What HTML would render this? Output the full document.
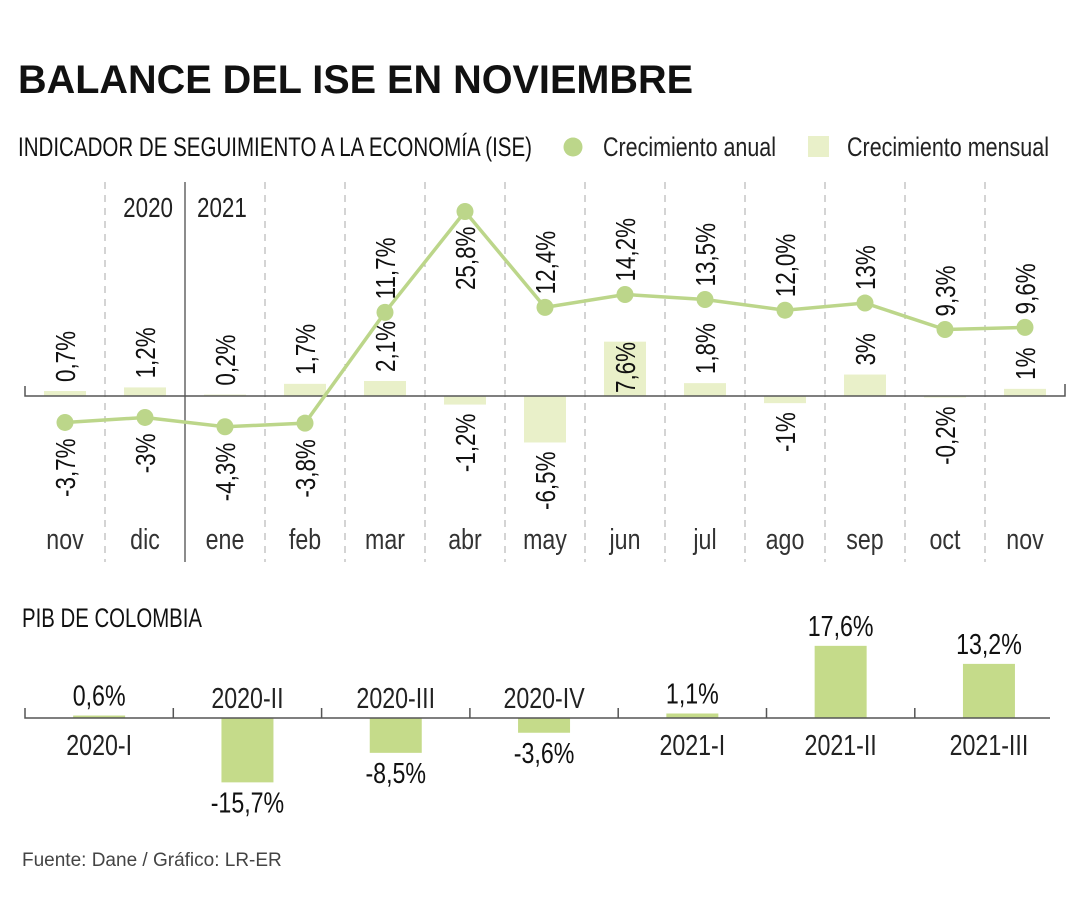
<!DOCTYPE html>
<html><head><meta charset="utf-8">
<style>
html,body{margin:0;padding:0;background:#fff;}
svg{display:block;font-family:"Liberation Sans",sans-serif;}
</style></head>
<body>
<svg id="chart" width="1080" height="900" viewBox="0 0 1080 900">
  <text x="18" y="93" font-family="Liberation Sans, sans-serif" font-weight="bold" font-size="40" fill="#111" textLength="675" lengthAdjust="spacingAndGlyphs">BALANCE DEL ISE EN NOVIEMBRE</text>
  <text x="18" y="156" font-size="27" fill="#111" textLength="514" lengthAdjust="spacingAndGlyphs">INDICADOR DE SEGUIMIENTO A LA ECONOMÍA (ISE)</text>
  <circle cx="573" cy="147" r="9.5" fill="#bcd68a"/>
  <text x="603" y="156" font-size="27" fill="#222" textLength="173" lengthAdjust="spacingAndGlyphs">Crecimiento anual</text>
  <rect x="808" y="136" width="21" height="21" fill="#e9f0c9"/>
  <text x="847" y="156" font-size="27" fill="#222" textLength="202" lengthAdjust="spacingAndGlyphs">Crecimiento mensual</text>
  <g id="ise"></g>
  <text x="22" y="627" font-size="27" fill="#111" textLength="180" lengthAdjust="spacingAndGlyphs">PIB DE COLOMBIA</text>
  <g id="pib"></g>
  <text x="22" y="866" font-family="Liberation Sans, sans-serif" font-size="19" fill="#444">Fuente: Dane / Gráfico: LR-ER</text>
</svg>
<script>
const months = ["nov","dic","ene","feb","mar","abr","may","jun","jul","ago","sep","oct","nov"];
const annual = [-3.7,-3.0,-4.3,-3.8,11.7,25.8,12.4,14.2,13.5,12.0,13.0,9.3,9.6];
const annualLabels = ["-3,7%","-3%","-4,3%","-3,8%","11,7%","25,8%","12,4%","14,2%","13,5%","12,0%","13%","9,3%","9,6%"];
const monthly = [0.7,1.2,0.2,1.7,2.1,-1.2,-6.5,7.6,1.8,-1.0,3.0,-0.2,1.0];
const monthlyLabels = ["0,7%","1,2%","0,2%","1,7%","2,1%","-1,2%","-6,5%","7,6%","1,8%","-1%","3%","-0,2%","1%"];
const quarters = ["2020-I","2020-II","2020-III","2020-IV","2021-I","2021-II","2021-III"];
const pib = [0.6,-15.7,-8.5,-3.6,1.1,17.6,13.2];
const pibLabels = ["0,6%","-15,7%","-8,5%","-3,6%","1,1%","17,6%","13,2%"];

const NS="http://www.w3.org/2000/svg";
const SX=0.8;
function mk(parent,tag,attrs,text){const e=document.createElementNS(NS,tag);for(const k in attrs)e.setAttribute(k,attrs[k]);if(text!==undefined)e.textContent=text;parent.appendChild(e);return e;}

// ISE chart
const ise=document.getElementById('ise');
const zeroY=396, unit=7.15, colW=80, x0=25;
const xC=i=>x0+colW*i+40;
const yV=v=>zeroY-v*unit;
for(let i=1;i<months.length;i++){
  const x=x0+colW*i;
  const l=mk(ise,'line',{x1:x,x2:x,y1:182,y2:562,stroke:i===2?'#666':'#aaa','stroke-width':i===2?1.5:1,'stroke-dasharray':i===2?'none':'7,6'});
  
  
}
const y20=mk(ise,'text',{x:0,y:0,'font-size':28,fill:'#222','text-anchor':'end',transform:`translate(173,217) scale(${SX},1)`},'2020');


const y21=mk(ise,'text',{x:0,y:0,'font-size':28,fill:'#222',transform:`translate(197,217) scale(${SX},1)`},'2021');


monthly.forEach((v,i)=>{
  const y=Math.min(yV(v),zeroY), h=Math.abs(v*unit);
  const r=mk(ise,'rect',{x:xC(i)-21,y:y,width:42,height:Math.max(h,1.5),fill:'#e9f0c9'});
  
  
  let ty, anchor;
  if(v>5){ty=zeroY-3;anchor='start';}
  else if(v>=0){ty=yV(v)-9;anchor='start';}
  else {ty=yV(v)+9;anchor='end';}
  const t=mk(ise,'text',{x:0,y:0,'font-size':28,fill:'#111','text-anchor':anchor,transform:`translate(${xC(i)+10},${ty}) rotate(-90) scale(${SX},1)`},monthlyLabels[i]);
  
  
});
const ax=mk(ise,'path',{d:`M${x0} ${zeroY-10} V${zeroY} H1065 V${zeroY-12}`,stroke:'#555','stroke-width':1.5,fill:'none'});


const pts=annual.map((v,i)=>xC(i)+','+yV(v)).join(' ');
const pl=mk(ise,'polyline',{points:pts,fill:'none',stroke:'#bcd68a','stroke-width':3.5});


annual.forEach((v,i)=>{
  const c=mk(ise,'circle',{cx:xC(i),cy:yV(v),r:8.5,fill:'#bcd68a'});
  
  
  let ty,anchor;
  if(v<0){ty=yV(v)+16;anchor='end';}
  else if(v>20){ty=yV(v)+15;anchor='end';}
  else {ty=yV(v)-13;anchor='start';}
  const t=mk(ise,'text',{x:0,y:0,'font-size':28,fill:'#111','text-anchor':anchor,transform:`translate(${xC(i)+10},${ty}) rotate(-90) scale(${SX},1)`},annualLabels[i]);
  
  
});
months.forEach((m,i)=>{
  const t=mk(ise,'text',{x:0,y:0,'font-size':29,fill:'#333','text-anchor':'middle',transform:`translate(${xC(i)},549) scale(${SX},1)`},m);
  
  
});

// PIB chart
const pibG=document.getElementById('pib');
const pZero=718, pUnit=4.1, pW=148.3, px0=25;
const pC=i=>px0+pW*i+pW/2;
const pY=v=>pZero-v*pUnit;
pib.forEach((v,i)=>{
  const y=Math.min(pY(v),pZero), h=Math.abs(v*pUnit);
  const r=mk(pibG,'rect',{x:pC(i)-26,y:y,width:52,height:Math.max(h,2),fill:'#c5db8a'});
  
  
  const vt=mk(pibG,'text',{x:0,y:0,'font-size':29,fill:'#111','text-anchor':'middle',transform:`translate(${pC(i)},${v>=0?pY(v)-10:pY(v)+30}) scale(${SX},1)`},pibLabels[i]);
  
  
  const ct=mk(pibG,'text',{x:0,y:0,'font-size':29,fill:'#222','text-anchor':'middle',transform:`translate(${pC(i)},${v>=0?pZero+37:pZero-10}) scale(${SX},1)`},quarters[i]);
  
  
});
let d=`M${px0} ${pZero-10} V${pZero} H1050`;
for(let i=1;i<quarters.length;i++){const x=px0+pW*i;d+=` M${x} ${pZero-10} V${pZero}`;}
const pax=mk(pibG,'path',{d:d,stroke:'#555','stroke-width':1.5,fill:'none'});


</script>
</body></html>
